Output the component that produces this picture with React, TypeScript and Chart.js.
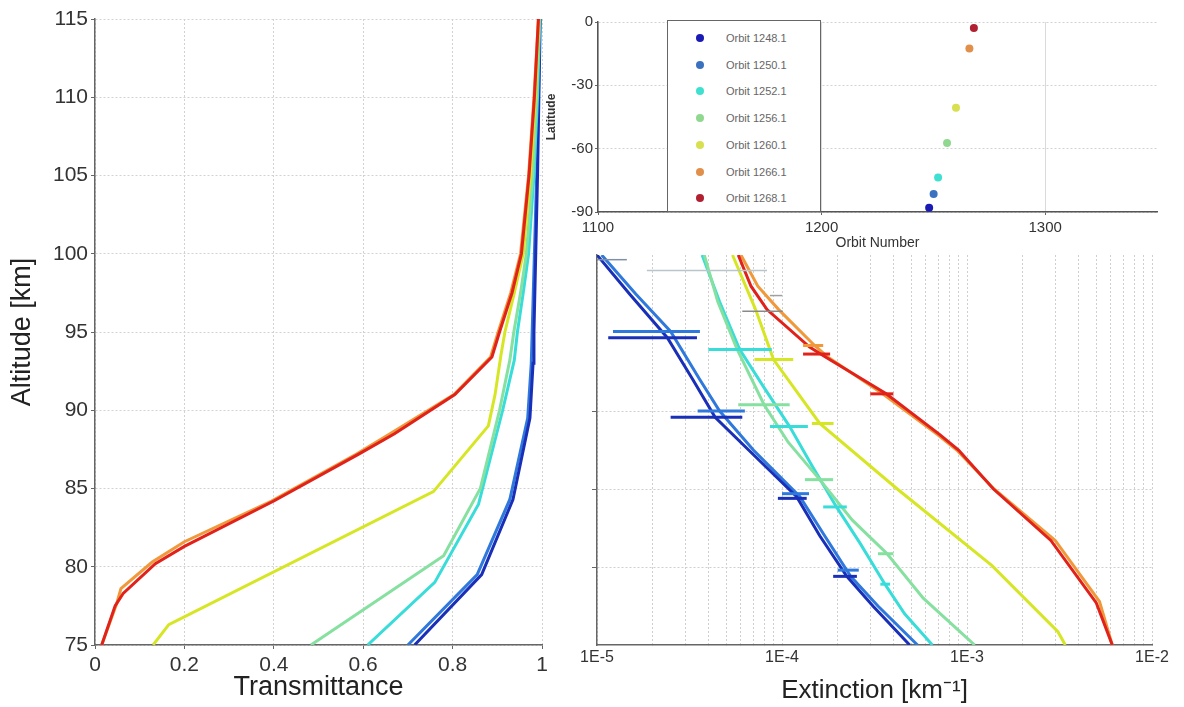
import React, { useEffect, useRef } from 'react';
import { Chart, registerables } from 'chart.js';
Chart.register(...registerables);

const FONT = "'Liberation Sans', Arial, Helvetica, sans-serif";

// ---------- Orbit / latitude panel ----------
const orbitLabels = ['Orbit 1248.1', 'Orbit 1250.1', 'Orbit 1252.1', 'Orbit 1256.1', 'Orbit 1260.1', 'Orbit 1266.1', 'Orbit 1268.1'];
const orbitNumbers = [1248.1, 1250.1, 1252.1, 1256.1, 1260.1, 1266.1, 1268.1];
const latitudes = [-88, -81.5, -73.7, -57.3, -40.6, -12.6, -2.8];
const markerColors = ['#1a1ab4', '#3a72c0', '#3ee0d0', '#90d890', '#d8e050', '#e0904a', '#b02030'];
const lineColors = ['#1a2fb8', '#2f78dc', '#38dcd8', '#86e0a0', '#d6e624', '#f0983a', '#e0221a'];
const orbitTicks = [1100, 1200, 1300];
const latTicks = [-90, -60, -30, 0];

// ---------- Transmittance panel (altitude km, transmittance) ----------
const transTicks = [0, 0.2, 0.4, 0.6, 0.8, 1];
const altT1248 = [75, 79.5, 84.3, 89.5, 93, 95, 100, 105, 110, 115];
const trans1248 = [0.715, 0.865, 0.935, 0.973, 0.98, 0.982, 0.986, 0.99, 0.993, 0.996];
const altT1250 = [75, 79.5, 84.3, 89.5, 93, 95, 100, 105, 110, 115];
const trans1250 = [0.70, 0.855, 0.928, 0.968, 0.976, 0.978, 0.983, 0.988, 0.992, 0.995];
const altT1252 = [75, 79, 84, 90, 93.2, 95, 97.5, 100, 105, 110, 115];
const trans1252 = [0.61, 0.76, 0.858, 0.912, 0.938, 0.945, 0.958, 0.97, 0.982, 0.99, 0.995];
const altT1256 = [75, 80.7, 85, 90, 93.2, 95, 97.5, 100, 105, 110, 115];
const trans1256 = [0.483, 0.78, 0.862, 0.905, 0.928, 0.937, 0.952, 0.965, 0.979, 0.988, 0.994];
const altT1260 = [75, 76.3, 84.8, 89, 91, 93.5, 95, 97.5, 100, 105, 110, 115];
const trans1260 = [0.13, 0.165, 0.757, 0.88, 0.895, 0.908, 0.917, 0.938, 0.958, 0.974, 0.985, 0.993];
const altT1266 = [75, 77.6, 78.6, 80.3, 81.6, 84.2, 87.2, 88.5, 91, 93.4, 95, 97.5, 100, 105, 110, 115];
const trans1266 = [0.015, 0.048, 0.058, 0.128, 0.2, 0.395, 0.585, 0.66, 0.803, 0.885, 0.902, 0.93, 0.952, 0.97, 0.982, 0.992];
const altT1268 = [75, 77.5, 78.3, 80.2, 81.3, 84.2, 87.2, 88.5, 91, 93.4, 95, 97.5, 100, 105, 110, 115];
const trans1268 = [0.015, 0.045, 0.063, 0.135, 0.2, 0.4, 0.59, 0.67, 0.805, 0.888, 0.905, 0.933, 0.954, 0.971, 0.983, 0.992];

// ---------- Extinction panel (altitude km, extinction km^-1) ----------
const altE1248 = [100, 97.5, 94.7, 92, 89.6, 87.5, 84.5, 82, 79.4, 77.5, 75];
const ext1248 = [1.0e-5, 1.5e-5, 2.4e-5, 3.3e-5, 4.35e-5, 6.6e-5, 1.2e-4, 1.6e-4, 2.24e-4, 3.1e-4, 4.9e-4];
const altE1250 = [100, 97.5, 95.1, 92, 90, 87.5, 84.5, 82, 79.4, 77.5, 75];
const ext1250 = [1.06e-5, 1.62e-5, 2.5e-5, 3.6e-5, 4.6e-5, 7.0e-5, 1.25e-4, 1.7e-4, 2.35e-4, 3.3e-4, 5.4e-4];
const altE1252 = [100, 97, 93.95, 91.5, 89, 86.5, 83.85, 81.5, 78.9, 77, 75];
const ext1252 = [3.7e-5, 4.6e-5, 5.9e-5, 8.0e-5, 1.1e-4, 1.45e-4, 1.97e-4, 2.65e-4, 3.6e-4, 4.6e-4, 6.5e-4];
const altE1256 = [100, 97, 94, 90.4, 88, 85.6, 83, 80.85, 78, 75];
const ext1256 = [3.8e-5, 4.5e-5, 5.7e-5, 8.0e-5, 1.08e-4, 1.6e-4, 2.4e-4, 3.7e-4, 5.8e-4, 1.1e-3];
const altE1260 = [100, 96.5, 93.3, 89.2, 85, 80.1, 75.85, 75];
const ext1260 = [5.4e-5, 7.2e-5, 9.0e-5, 1.6e-4, 4.2e-4, 1.36e-3, 3.1e-3, 3.4e-3];
const altE1266 = [100, 98, 96.5, 94.2, 93.5, 91.1, 88.5, 87.5, 85, 81.7, 77.8, 75];
const ext1266 = [6.0e-5, 7.4e-5, 9.6e-5, 1.5e-4, 1.75e-4, 3.5e-4, 6.9e-4, 8.8e-4, 1.4e-3, 3.0e-3, 5.2e-3, 6.1e-3];
const altE1268 = [100, 98, 96.5, 94.1, 93.5, 91.1, 88.5, 87.5, 85, 81.7, 77.7, 75];
const ext1268 = [5.8e-5, 6.8e-5, 8.3e-5, 1.41e-4, 1.7e-4, 3.66e-4, 7.1e-4, 9.0e-4, 1.39e-3, 2.84e-3, 5.0e-3, 6.1e-3];

// error bars: [altitude, low, high]
const err1248 = [[94.7, 1.15e-5, 3.47e-5], [89.6, 2.5e-5, 6.1e-5], [84.4, 9.5e-5, 1.36e-4], [79.4, 1.89e-4, 2.54e-4]];
const err1250 = [[95.1, 1.22e-5, 3.6e-5], [90.0, 3.5e-5, 6.3e-5], [84.7, 1.0e-4, 1.4e-4], [79.8, 2.0e-4, 2.6e-4]];
const err1252 = [[93.95, 4.0e-5, 8.8e-5], [89.0, 8.6e-5, 1.38e-4], [83.85, 1.67e-4, 2.24e-4], [78.9, 3.4e-4, 3.84e-4]];
const err1256 = [[90.4, 5.8e-5, 1.1e-4], [85.6, 1.33e-4, 1.89e-4], [80.85, 3.3e-4, 4.0e-4]];
const err1260 = [[93.3, 7.1e-5, 1.15e-4], [89.2, 1.45e-4, 1.9e-4]];
const err1266 = [[94.2, 1.3e-4, 1.67e-4]];
const err1268 = [[93.65, 1.3e-4, 1.82e-4], [91.1, 3.0e-4, 4.0e-4]];
const faintBars = [[99.7, 1.0e-5, 1.45e-5], [99.0, 1.86e-5, 8.3e-5], [97.4, 8.6e-5, 1.0e-4], [96.4, 6.1e-5, 1.01e-4]];
const faintColors = ['#7f8fa8', '#b8c6cc', '#a0a0a0', '#8a8a8a'];

const extTicks: number[] = [];
for (let e = -5; e <= -3; e++) for (let m = 1; m <= 9; m++) extTicks.push(m * Math.pow(10, e));
extTicks.push(1e-2);
const altGridExt = [80, 85, 90];

const pts = (xs: number[], ys: number[]) => xs.map((x, i) => ({ x, y: ys[i] }));

const transSeries = [
  { x: trans1268, y: altT1268, c: lineColors[6] },
  { x: trans1266, y: altT1266, c: lineColors[5] },
  { x: trans1260, y: altT1260, c: lineColors[4] },
  { x: trans1256, y: altT1256, c: lineColors[3] },
  { x: trans1252, y: altT1252, c: lineColors[2] },
  { x: trans1248, y: altT1248, c: lineColors[0] },
  { x: trans1250, y: altT1250, c: lineColors[1] },
];
const extSeries = [
  { x: ext1268, y: altE1268, c: lineColors[6], err: err1268 },
  { x: ext1266, y: altE1266, c: lineColors[5], err: err1266 },
  { x: ext1260, y: altE1260, c: lineColors[4], err: err1260 },
  { x: ext1256, y: altE1256, c: lineColors[3], err: err1256 },
  { x: ext1252, y: altE1252, c: lineColors[2], err: err1252 },
  { x: ext1248, y: altE1248, c: lineColors[0], err: err1248 },
  { x: ext1250, y: altE1250, c: lineColors[1], err: err1250 },
];

const base = {
  responsive: false,
  animation: false as const,
  events: [] as any[],
  plugins: { legend: { display: false }, tooltip: { enabled: false } },
};

const plain = (v: any) => String(Number(v));

function leftConfig(): any {
  return {
    type: 'scatter',
    data: {
      datasets: transSeries.map((s) => ({
        data: pts(s.x, s.y), showLine: true, borderColor: s.c, borderWidth: 3, pointRadius: 0, tension: 0,
      })),
    },
    options: {
      ...base,
      layout: { padding: { top: 19, right: 18, left: 0, bottom: 0 } },
      scales: {
        x: {
          type: 'linear', min: 0, max: 1,
          afterBuildTicks: (s: any) => { s.ticks = transTicks.map((v) => ({ value: v })); },
          afterFit: (s: any) => { s.height = 62; },
          ticks: { font: { family: FONT, size: 21 }, color: '#333', padding: 4, maxRotation: 0, autoSkip: false, callback: plain },
          grid: { color: '#d2d2d2', tickLength: 4, tickColor: '#666' },
          border: { color: '#666', width: 1.5, dash: [2, 2] },
          title: { display: true, text: 'Transmittance', font: { family: FONT, size: 27 }, color: '#222', padding: { top: 0, bottom: 3 } },
        },
        y: {
          type: 'linear', min: 75, max: 115,
          ticks: { stepSize: 5, font: { family: FONT, size: 21 }, color: '#333', padding: 3, callback: plain },
          afterFit: (s: any) => { s.width = 95; },
          grid: { color: '#d2d2d2', tickLength: 4, tickColor: '#666' },
          border: { color: '#666', width: 1.5, dash: [2, 2] },
          title: { display: true, text: 'Altitude [km]', font: { family: FONT, size: 27 }, color: '#222', padding: { top: 6, bottom: 0 } },
        },
      },
    },
  };
}

function topConfig(): any {
  return {
    type: 'scatter',
    data: {
      datasets: orbitNumbers.map((o, i) => ({
        data: [{ x: o, y: latitudes[i] }], pointRadius: 4, pointBackgroundColor: markerColors[i], pointBorderWidth: 0,
      })),
    },
    options: {
      ...base,
      layout: { padding: { top: 22, right: 27, left: 0, bottom: 0 } },
      scales: {
        x: {
          type: 'linear', min: 1100, max: 1350,
          afterBuildTicks: (s: any) => { s.ticks = orbitTicks.map((v) => ({ value: v })); },
          afterFit: (s: any) => { s.height = 38; },
          ticks: { font: { family: FONT, size: 15 }, color: '#333', padding: 4, maxRotation: 0, autoSkip: false, callback: plain },
          grid: { color: '#dadada', tickLength: 3, tickColor: '#666' },
          border: { color: '#555', width: 1.5 },
          title: { display: true, text: 'Orbit Number', font: { family: FONT, size: 14, lineHeight: 1 }, color: '#333', padding: { top: 0, bottom: 0 } },
        },
        y: {
          type: 'linear', min: -90, max: 0,
          afterBuildTicks: (s: any) => { s.ticks = latTicks.map((v) => ({ value: v })); },
          afterFit: (s: any) => { s.width = 58; },
          ticks: { font: { family: FONT, size: 15 }, color: '#333', padding: 2, callback: plain },
          grid: { color: '#d2d2d2', tickLength: 3, tickColor: '#666' },
          border: { color: '#555', width: 1.5, dash: [2, 2] },
          title: { display: true, text: 'Latitude', font: { family: FONT, size: 12, weight: 'bold' }, color: '#333', padding: { top: 4, bottom: 0 } },
        },
      },
    },
  };
}

function bottomConfig(): any {
  const errSets: any[] = [];
  faintBars.forEach((b, i) => {
    errSets.push({ data: [{ x: b[1], y: b[0] }, { x: b[2], y: b[0] }], showLine: true, borderColor: faintColors[i], borderWidth: 1.5, pointRadius: 0 });
  });
  extSeries.forEach((s) => {
    s.err.forEach((b) => {
      errSets.push({ data: [{ x: b[1], y: b[0] }, { x: b[2], y: b[0] }], showLine: true, borderColor: s.c, borderWidth: 3, pointRadius: 0 });
    });
  });
  const lineSets = extSeries.map((s) => ({
    data: pts(s.x, s.y), showLine: true, borderColor: s.c, borderWidth: 3, pointRadius: 0, tension: 0,
  }));
  return {
    type: 'scatter',
    data: { datasets: [...errSets, ...lineSets] },
    options: {
      ...base,
      layout: { padding: { top: 5, right: 32, left: 0, bottom: 0 } },
      scales: {
        x: {
          type: 'logarithmic', min: 1e-5, max: 1e-2,
          afterBuildTicks: (s: any) => { s.ticks = extTicks.map((v) => ({ value: v })); },
          afterFit: (s: any) => { s.height = 62; },
          ticks: {
            font: { family: FONT, size: 16 }, color: '#333', padding: 3, maxRotation: 0, autoSkip: false,
            callback: (v: any) => {
              const l = Math.log10(Number(v));
              return Math.abs(l - Math.round(l)) < 1e-6 ? '1E' + Math.round(l) : '';
            },
          },
          grid: { color: '#cfcfcf', tickLength: 0 },
          border: { color: '#666', width: 1.5, dash: [2, 2] },
          title: { display: true, text: 'Extinction [km⁻¹]', font: { family: FONT, size: 26 }, color: '#222', padding: { top: 0, bottom: 1 } },
        },
        y: {
          type: 'linear', min: 75, max: 100,
          ticks: { stepSize: 5, display: false },
          afterFit: (s: any) => { s.width = 37; },
          grid: {
            tickLength: 5,
            color: (ctx: any) => (ctx.tick && altGridExt.includes(ctx.tick.value) ? '#cfcfcf' : 'rgba(0,0,0,0)'),
            tickColor: (ctx: any) => (ctx.tick && altGridExt.includes(ctx.tick.value) ? '#666' : 'rgba(0,0,0,0)'),
          },
          border: { color: '#666', width: 1.5, dash: [2, 2] },
        },
      },
    },
  };
}

function ChartCanvas({ make, left, top, width, height }: { make: () => any; left: number; top: number; width: number; height: number }) {
  const ref = useRef<HTMLCanvasElement>(null);
  useEffect(() => {
    const chart = new Chart(ref.current as HTMLCanvasElement, make());
    return () => chart.destroy();
  }, []);
  return <canvas ref={ref} width={width} height={height} style={{ position: 'absolute', left, top, width, height }} />;
}

export default function App() {
  return (
    <div style={{ position: 'fixed', left: 0, top: 0, width: 1184, height: 707, background: '#fff', overflow: 'hidden', fontFamily: FONT }}>
      <ChartCanvas make={leftConfig} left={0} top={0} width={560} height={707} />
      <ChartCanvas make={bottomConfig} left={560} top={250} width={624} height={457} />
      <ChartCanvas make={topConfig} left={540} top={0} width={644} height={250} />
      <div style={{ position: 'absolute', left: 667, top: 20, width: 154, height: 192, boxSizing: 'border-box', border: '1px solid #666', background: '#fff' }}>
        {orbitLabels.map((lab, i) => (
          <div key={lab} style={{ position: 'absolute', left: 0, top: 17 + i * 26.7 - 8, height: 16, width: '100%' }}>
            <span style={{ position: 'absolute', left: 28, top: 4, width: 8, height: 8, borderRadius: 4, background: markerColors[i] }} />
            <span style={{ position: 'absolute', left: 58, top: 1, fontSize: 11, lineHeight: '14px', color: '#666', whiteSpace: 'nowrap' }}>{lab}</span>
          </div>
        ))}
      </div>
    </div>
  );
}
